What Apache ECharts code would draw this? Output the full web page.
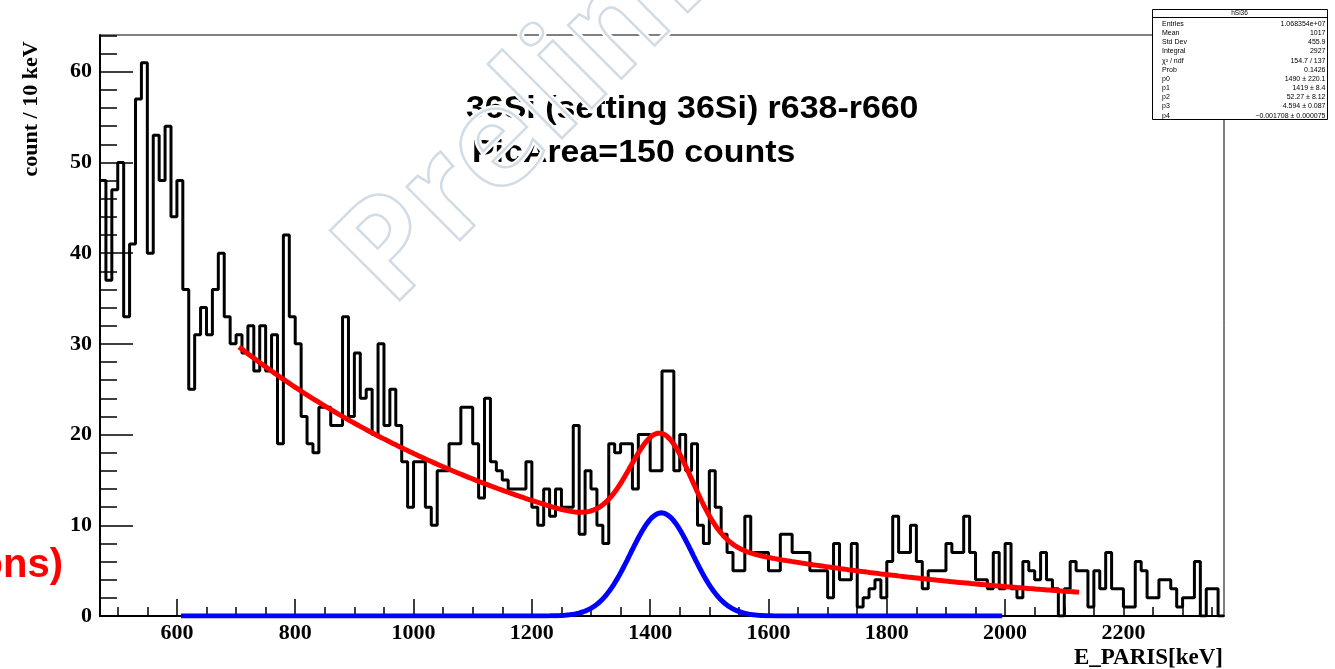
<!DOCTYPE html>
<html>
<head>
<meta charset="utf-8">
<script src="https://cdn.jsdelivr.net/npm/echarts@6/dist/echarts.min.js"></script>
<style>
html,body{margin:0;padding:0;background:#fff;}
#chart{width:1335px;height:669px;}
</style>
</head>
<body>
<div id="chart"></div>
<script>
// Histogram hSi36: E_PARIS energy, 10 keV bins starting at 470 keV
const binLow = 470;
const binWidth = 10;
const counts = [
  48, 37, 47, 50, 33, 41, 57, 61, 40, 53,
  48, 54, 44, 48, 36, 25, 31, 34, 31, 36,
  40, 33, 30, 31, 29, 32, 27, 32, 27, 31,
  19, 42, 33, 30, 22, 19, 18, 23, 23, 21,
  21, 33, 22, 29, 24, 25, 20, 30, 21, 25,
  21, 17, 12, 17, 17, 12, 10, 16, 16, 19,
  19, 23, 23, 19, 13, 24, 17, 16, 15, 14,
  14, 14, 17, 12, 10, 14, 11, 14, 12, 12,
  21, 9, 16, 14, 10, 8, 19, 18, 19, 19,
  14, 20, 20, 16, 16, 27, 27, 16, 20, 16,
  19, 10, 8, 16, 12, 9, 7, 5, 5, 11,
  7, 7, 7, 5, 5, 9, 9, 7, 7, 7,
  5, 5, 5, 2, 8, 4, 4, 8, 1, 2,
  3, 4, 2, 6, 11, 7, 7, 10, 6, 3,
  5, 5, 5, 8, 7, 7, 11, 7, 4, 4,
  3, 7, 3, 8, 3, 2, 6, 5, 4, 7,
  4, 3, 0, 3, 6, 5, 5, 1, 5, 3,
  7, 3, 3, 1, 1, 6, 5, 2, 2, 4,
  4, 3, 1, 2, 2, 6, 0, 3, 3, 0
];

// Axis range and tick positions
const xMin = 470, xMax = 2370;
const yMin = 0, yMax = 64.05;
const xMajorTicks = [600, 800, 1000, 1200, 1400, 1600, 1800, 2000, 2200];
const xMinorTicks = [500, 550, 650, 700, 750, 850, 900, 950, 1050, 1100, 1150, 1250, 1300, 1350,
                     1450, 1500, 1550, 1650, 1700, 1750, 1850, 1900, 1950, 2050, 2100, 2150, 2250, 2300, 2350];
const yMajorTicks = [0, 10, 20, 30, 40, 50, 60];
const yMinorTicks = [2, 4, 6, 8, 12, 14, 16, 18, 22, 24, 26, 28, 32, 34, 36, 38, 42, 44, 46, 48,
                     52, 54, 56, 58, 62, 64];

// Fit parameters: gausn(p0,p1,p2) + exp(p3 + p4*x)
const p0 = 1490, p1 = 1419, p2 = 52.27, p3 = 4.594, p4 = -0.001708;
const totalFitRange = [705, 2125];
const peakFitRange = [607, 1995];

const statsTitle = 'hSi36';
const statsLabels = ['Entries', 'Mean', 'Std Dev', 'Integral', 'χ² / ndf', 'Prob', 'p0', 'p1', 'p2', 'p3', 'p4'];
const statsValues = ['1.068354e+07', '1017', '455.9', '2927', '154.7 / 137', '0.1426',
                     '1490 ± 220.1', '1419 ± 8.4', '52.27 ± 8.12', '4.594 ± 0.087', '−0.001708 ± 0.000075'];

const titleLine1 = '36Si (setting 36Si) r638-r660';
const titleLine2 = 'PicArea=150 counts';

function gaussPart(x) {
  return p0 / (Math.sqrt(2 * Math.PI) * p2) * Math.exp(-0.5 * Math.pow((x - p1) / p2, 2));
}
function bgPart(x) {
  return Math.exp(p3 + p4 * x);
}
function sampleCurve(range, fn) {
  const pts = [];
  for (let x = range[0]; x <= range[1]; x += 2) pts.push([x, fn(x)]);
  return pts;
}

const histData = counts.map((c, i) => [binLow + i * binWidth, c]);
histData.push([binLow + counts.length * binWidth, counts[counts.length - 1]]);

const totalCurve = sampleCurve(totalFitRange, x => gaussPart(x) + bgPart(x));
const peakCurve = sampleCurve(peakFitRange, gaussPart);

const serif = '"Liberation Serif", "Times New Roman", serif';
const sans = '"Liberation Sans", Arial, sans-serif';

const chart = echarts.init(document.getElementById('chart'), null, { renderer: 'canvas' });

// Statistics box in the top right corner
const statsGraphics = [];
const boxL = 1152, boxT = 9, boxW = 175, boxH = 110;
statsGraphics.push({
  type: 'rect', z: 100,
  shape: { x: boxL + 0.5, y: boxT + 0.5, width: boxW, height: boxH },
  style: { fill: '#fff', stroke: '#000', lineWidth: 1 }
});
statsGraphics.push({
  type: 'line', z: 101,
  shape: { x1: boxL, y1: boxT + 8.5, x2: boxL + boxW, y2: boxT + 8.5 },
  style: { stroke: '#000', lineWidth: 1 }
});
statsGraphics.push({
  type: 'text', z: 101, x: boxL + boxW / 2, y: boxT + 4.5,
  style: { text: statsTitle, font: '6.5px ' + sans, fill: '#000', align: 'center', verticalAlign: 'middle' }
});
statsLabels.forEach((lab, k) => {
  const yy = boxT + 15 + k * 9.17;
  statsGraphics.push({
    type: 'text', z: 101, x: boxL + 10, y: yy,
    style: { text: lab, font: '7px ' + sans, fill: '#000', align: 'left', verticalAlign: 'middle' }
  });
  statsGraphics.push({
    type: 'text', z: 101, x: boxL + boxW - 1.5, y: yy,
    style: { text: statsValues[k], font: '7px ' + sans, fill: '#000', align: 'right', verticalAlign: 'middle' }
  });
});

// Outlined diagonal watermark, drawn on top with a white halo
const watermarkText = 'Preliminary';
const wmFont = 'bold 138px "Open Sans", sans-serif';
const wmX = 412, wmY = 330, wmRot = Math.PI / 4;
const watermark = [
  {
    type: 'text', z: 120, x: wmX, y: wmY, rotation: wmRot,
    style: { text: watermarkText, font: wmFont, fill: 'rgba(0,0,0,0)',
             stroke: '#ffffff', lineWidth: 7, align: 'left', verticalAlign: 'bottom', lineJoin: 'round' }
  },
  {
    type: 'text', z: 121, x: wmX, y: wmY, rotation: wmRot,
    style: { text: watermarkText, font: wmFont, fill: 'rgba(0,0,0,0)',
             stroke: '#d2dce5', lineWidth: 2.5, align: 'left', verticalAlign: 'bottom', lineJoin: 'round' }
  }
];

const option = {
  animation: false,
  backgroundColor: '#fff',
  grid: { left: 100, right: 111, top: 35, bottom: 53, show: true, borderColor: '#000', borderWidth: 1, backgroundColor: 'transparent' },
  xAxis: [
    {
      type: 'value', min: xMin, max: xMax, position: 'bottom',
      axisLine: { show: true, onZero: false, lineStyle: { color: '#000', width: 2 } },
      axisTick: { show: true, inside: true, length: 17, customValues: xMajorTicks, lineStyle: { color: '#000', width: 1.5 } },
      axisLabel: { show: true, customValues: xMajorTicks, margin: 6, color: '#000', fontFamily: serif, fontWeight: 'bold', fontSize: 22,
                   formatter: v => String(v) },
      splitLine: { show: false }
    },
    {
      type: 'value', min: xMin, max: xMax, position: 'bottom', offset: 0,
      axisLine: { show: false, onZero: false },
      axisTick: { show: true, inside: true, length: 9, customValues: xMinorTicks, lineStyle: { color: '#000', width: 1.5 } },
      axisLabel: { show: false },
      splitLine: { show: false }
    }
  ],
  yAxis: [
    {
      type: 'value', min: yMin, max: yMax, position: 'left',
      axisLine: { show: true, onZero: false, lineStyle: { color: '#000', width: 2 } },
      axisTick: { show: true, inside: true, length: 33, customValues: yMajorTicks, lineStyle: { color: '#000', width: 1.5 } },
      axisLabel: { show: true, customValues: yMajorTicks, margin: 8, color: '#000', fontFamily: serif, fontWeight: 'bold', fontSize: 22,
                   formatter: v => String(v) },
      splitLine: { show: false }
    },
    {
      type: 'value', min: yMin, max: yMax, position: 'left', offset: 0,
      axisLine: { show: false, onZero: false },
      axisTick: { show: true, inside: true, length: 17, customValues: yMinorTicks, lineStyle: { color: '#000', width: 1.5 } },
      axisLabel: { show: false },
      splitLine: { show: false }
    }
  ],
  series: [
    {
      type: 'line', name: 'hSi36', data: histData, step: 'end', xAxisIndex: 0, yAxisIndex: 0,
      symbol: 'none', lineStyle: { color: '#000', width: 3 }, z: 3, clip: true
    },
    {
      type: 'line', name: 'fit', data: totalCurve, xAxisIndex: 0, yAxisIndex: 0,
      symbol: 'none', smooth: false, lineStyle: { color: '#ff0000', width: 5 }, z: 4
    },
    {
      type: 'line', name: 'peak', data: peakCurve, xAxisIndex: 0, yAxisIndex: 0,
      symbol: 'none', smooth: false, lineStyle: { color: '#0000ff', width: 5 }, z: 5
    }
  ],
  graphic: [
    {
      type: 'text', z: 50, x: 466, y: 109, scaleX: 1.06,
      style: { text: titleLine1, font: 'bold 32px ' + sans, fill: '#000', align: 'left', verticalAlign: 'middle' }
    },
    {
      type: 'text', z: 50, x: 472, y: 153, scaleX: 1.06,
      style: { text: titleLine2, font: 'bold 32px ' + sans, fill: '#000', align: 'left', verticalAlign: 'middle' }
    },
    {
      type: 'text', z: 50, x: 1223, y: 658,
      style: { text: 'E_PARIS[keV]', font: 'bold 23px ' + serif, fill: '#000', align: 'right', verticalAlign: 'middle' }
    },
    {
      type: 'text', z: 50, x: 31, y: 109, rotation: Math.PI / 2,
      style: { text: 'count / 10 keV', font: 'bold 22px ' + serif, fill: '#000', align: 'center', verticalAlign: 'middle' }
    },
    {
      type: 'text', z: 50, x: 63, y: 566,
      style: { text: 'ons)', font: 'bold 40px ' + sans, fill: '#ff0000', align: 'right', verticalAlign: 'middle' }
    }
  ].concat(statsGraphics, watermark)
};

chart.setOption(option);
</script>
</body>
</html>
